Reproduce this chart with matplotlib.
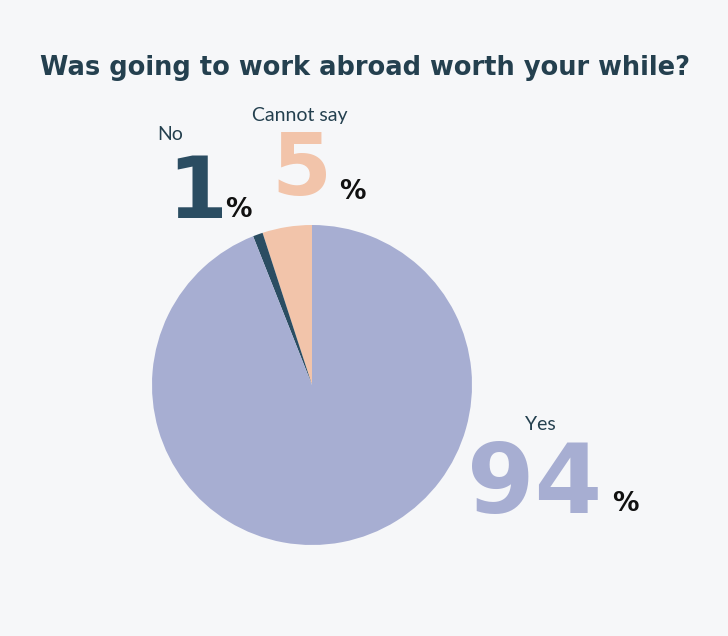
import matplotlib
matplotlib.use("Agg")
import matplotlib.pyplot as plt

labels = ["Cannot say", "No", "Yes"]
values = [5, 1, 94]
colors = ["#f2c4aa", "#2b4d62", "#a7aed2"]

W, H = 728, 636
fig = plt.figure(figsize=(W/100, H/100), dpi=100, facecolor="#f6f7f9")
ax = fig.add_axes([0, 0, 1, 1])
ax.set_xlim(0, W); ax.set_ylim(0, H); ax.set_aspect("equal"); ax.axis("off")
ax.pie(values, colors=colors, startangle=90, counterclock=True,
       center=(312, H-385), radius=160, frame=True,
       wedgeprops=dict(linewidth=0))
ax.set_xlim(0, W); ax.set_ylim(0, H); ax.axis("off")

fam = ["DejaVu Sans"]
lab = ["Lato", "DejaVu Sans"]
dark = "#24404f"
ax.text(W/2 + 1, H-68, "Was going to work abroad worth your while?", ha="center", va="center",
        fontsize=18.5, fontweight="bold", color=dark, family=fam)
# No
ax.text(170, H-135, "No", ha="center", va="center", fontsize=14, color=dark, family=lab)
ax.text(197, H-194, f"{values[1]}", ha="center", va="center", fontsize=62, fontweight="bold", color=colors[1], family=fam)
ax.text(238, H-210, "%", ha="center", va="center", fontsize=19, fontweight="bold", color="#111", family=fam)
# Cannot say
ax.text(300, H-115, labels[0], ha="center", va="center", fontsize=14, color=dark, family=lab)
ax.text(301, H-172, f"{values[0]}", ha="center", va="center", fontsize=62, fontweight="bold", color=colors[0], family=fam)
ax.text(352, H-192, "%", ha="center", va="center", fontsize=19, fontweight="bold", color="#111", family=fam)
# Yes
ax.text(540, H-424, labels[2], ha="center", va="center", fontsize=14, color=dark, family=lab)
ax.text(535, H-486, f"{values[2]}", ha="center", va="center", fontsize=70, fontweight="bold", color=colors[2], family=fam)
ax.text(625, H-504, "%", ha="center", va="center", fontsize=19, fontweight="bold", color="#111", family=fam)

fig.savefig("out.png", dpi=100, facecolor=fig.get_facecolor())
